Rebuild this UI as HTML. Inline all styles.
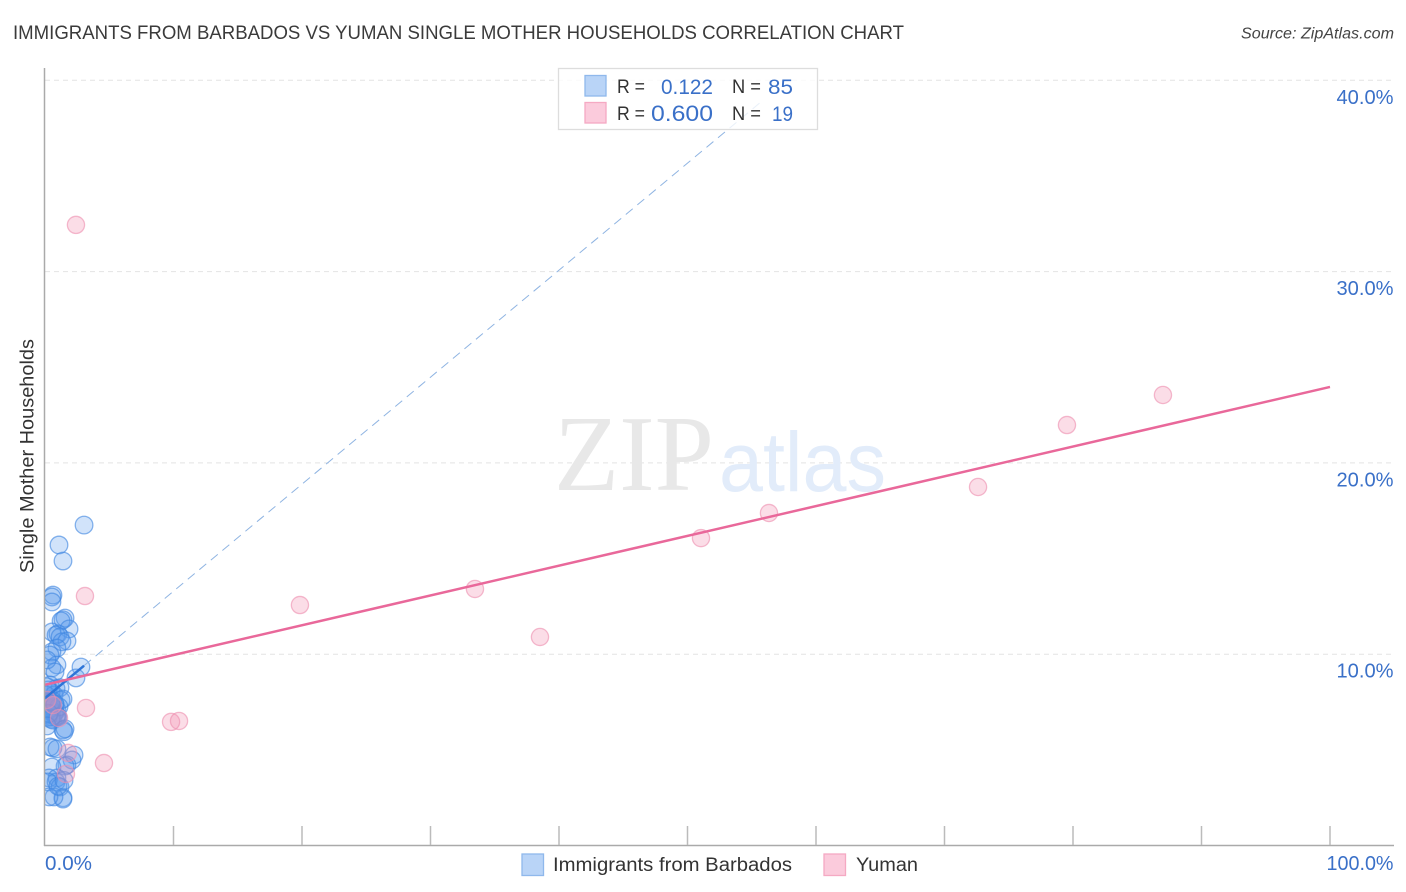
<!DOCTYPE html>
<html lang="en">
<head>
<meta charset="utf-8">
<title>Immigrants from Barbados vs Yuman Single Mother Households Correlation Chart</title>
<style>
html,body{margin:0;padding:0;background:#fff;}
body{width:1406px;height:892px;overflow:hidden;font-family:"Liberation Sans",sans-serif;}
svg{display:block;}
text{font-family:"Liberation Sans",sans-serif;}
</style>
</head>
<body>
<svg id="chart" width="1406" height="892" viewBox="0 0 1406 892" xmlns="http://www.w3.org/2000/svg">
  <defs><clipPath id="plot-clip"><rect x="45" y="60" width="1350" height="785"></rect></clipPath></defs>
  <text x="13" y="39" font-size="19" fill="#3a3a3a" textLength="891" lengthAdjust="spacingAndGlyphs">IMMIGRANTS FROM BARBADOS VS YUMAN SINGLE MOTHER HOUSEHOLDS CORRELATION CHART</text>
  <text x="1394" y="38.5" font-size="15.5" font-style="italic" fill="#444" text-anchor="end" textLength="153" lengthAdjust="spacingAndGlyphs">Source: ZipAtlas.com</text>

  <g id="grid"></g>

  <text x="554" y="490" font-size="108" fill="#e8e8e8" style="font-family:'Liberation Serif',serif" textLength="160" lengthAdjust="spacingAndGlyphs">ZIP</text>
  <text x="719" y="491" font-size="84" fill="#e2ecfa" textLength="167" lengthAdjust="spacingAndGlyphs">atlas</text>

  <g id="blue-points" clip-path="url(#plot-clip)"></g>
  <g id="pink-points" clip-path="url(#plot-clip)"></g>
  <g id="trends" clip-path="url(#plot-clip)"></g>

  <g id="axes"></g>
  <text transform="translate(33.5,456) rotate(-90)" font-size="19" fill="#333" text-anchor="middle" textLength="234" lengthAdjust="spacingAndGlyphs">Single Mother Households</text>

  <g>
    <rect x="558.5" y="68.5" width="259" height="61" fill="#fff" fill-opacity="0.8" stroke="#ddd" stroke-width="1.3"></rect>
    <rect x="585" y="75.5" width="21" height="20.5" fill="#b9d4f7" stroke="#8fb8ec" stroke-width="1.3"></rect>
    <rect x="585" y="102.5" width="21" height="20.5" fill="#fbcbdc" stroke="#f5a9c3" stroke-width="1.3"></rect>
    <text x="617" y="93" font-size="19" fill="#333" textLength="28" lengthAdjust="spacingAndGlyphs">R =</text>
    <text x="713" y="94" font-size="21" fill="#3a70c8" text-anchor="end" textLength="52" lengthAdjust="spacingAndGlyphs">0.122</text>
    <text x="732" y="93" font-size="19" fill="#333" textLength="29" lengthAdjust="spacingAndGlyphs">N =</text>
    <text x="793" y="94" font-size="21" fill="#3a70c8" text-anchor="end" textLength="25" lengthAdjust="spacingAndGlyphs">85</text>
    <text x="617" y="120" font-size="19" fill="#333" textLength="28" lengthAdjust="spacingAndGlyphs">R =</text>
    <text x="713" y="121" font-size="22" fill="#3a70c8" text-anchor="end" textLength="62" lengthAdjust="spacingAndGlyphs">0.600</text>
    <text x="732" y="120" font-size="19" fill="#333" textLength="29" lengthAdjust="spacingAndGlyphs">N =</text>
    <text x="793" y="121" font-size="21" fill="#3a70c8" text-anchor="end" textLength="21" lengthAdjust="spacingAndGlyphs">19</text>
  </g>

  <g>
    <rect x="522" y="854" width="21.5" height="21.5" fill="#b9d4f7" stroke="#8fb8ec" stroke-width="1.3"></rect>
    <text x="553" y="871" font-size="19" fill="#333" textLength="239" lengthAdjust="spacingAndGlyphs">Immigrants from Barbados</text>
    <rect x="824" y="854" width="21.5" height="21.5" fill="#fbcbdc" stroke="#f5a9c3" stroke-width="1.3"></rect>
    <text x="856" y="871" font-size="19" fill="#333" textLength="62" lengthAdjust="spacingAndGlyphs">Yuman</text>
  </g>
</svg>
<script>
const yTickValues = [10, 20, 30, 40];
const yTickLabels = ["10.0%", "20.0%", "30.0%", "40.0%"];
const xTickValues = [10, 20, 30, 40, 50, 60, 70, 80, 90, 100];
const xEndLabels = ["0.0%", "100.0%"];

const barbadosX = [3.04,1.09,1.40,0.62,0.54,0.54,1.56,1.40,1.25,1.87,0.54,1.01,0.86,1.17,1.71,1.32,0.93,0.54,0.39,
  2.80,0.93,0.54,0.78,0.16,2.41,0.39,0.86,1.17,0.23,0.47,0.70,1.25,1.40,0.08,0.31,0.16,0.54,0.78,0.39,0.62,0.93,
  0.23,0.47,0.78,0.93,0.31,0.54,0.08,0.70,0.62,0.86,0.93,0.39,0.16,0.62,1.09,0.47,0.23,0.78,0.47,1.01,0.31,
  1.40,1.48,1.56,0.62,0.39,0.16,0.93,2.26,2.10,1.71,1.56,0.54,0.31,0.93,0.86,0.23,1.17,1.40,1.40,0.70,0.31,1.01,1.48];
const barbadosY = [16.75,15.71,14.87,13.09,12.99,12.73,11.89,11.80,11.74,11.32,11.16,11.06,11.00,10.90,10.69,10.65,10.32,10.12,9.96,
  9.33,9.44,9.28,9.07,9.70,8.76,8.39,8.20,8.25,8.13,8.02,7.87,7.60,7.66,7.87,7.60,8.30,7.45,7.34,7.34,7.20,7.08,
  7.08,7.00,6.95,6.82,6.82,6.70,6.90,6.90,6.56,6.70,6.75,7.15,7.50,7.55,7.25,7.50,6.70,7.40,6.60,6.72,6.90,
  6.04,5.95,6.10,5.10,5.15,6.25,5.05,4.73,4.47,4.21,4.15,4.10,3.53,3.53,3.32,3.32,3.06,2.50,2.43,2.54,2.54,3.10,3.40];

const yumanX = [2.41,3.11,19.84,33.46,38.52,51.05,56.34,72.61,79.53,87.0,3.19,9.81,10.43,4.59,1.79,1.63,1.09,0.62,0.16];
const yumanY = [32.44,13.04,12.57,13.41,10.90,16.07,17.38,18.74,21.98,23.55,7.19,6.46,6.51,4.31,4.84,3.74,6.66,7.34,7.61];

const yumanTrendX = [0, 100];
const yumanTrendY = [8.4, 23.97];
const barbadosSolidX = [0, 3.04];
const barbadosSolidY = [7.7, 9.4];
const barbadosDashX = [3.04, 55.9];
const barbadosDashY = [9.4, 38.97];

const NS = 'http://www.w3.org/2000/svg';
function xScale(v){ return 45 + v * 12.85; }
function yScale(v){ return 845.5 - v * 19.13; }
function make(tag, attrs, parent){
  const el = document.createElementNS(NS, tag);
  for (const k in attrs) el.setAttribute(k, attrs[k]);
  parent.appendChild(el);
  return el;
}

const gridG = document.getElementById('grid');
const axesG = document.getElementById('axes');

yTickValues.forEach(function(v, i){
  const g = make('line', {x1:45, x2:1393, y1:yScale(v), y2:yScale(v), stroke:'#e4e4e4', 'stroke-width':1, 'stroke-dasharray':'5 4'}, gridG);
  
  
  const t = make('text', {x:1393.5, y:yScale(v)+23.5, 'font-size':20, fill:'#3a70c8', 'text-anchor':'end', textLength:57, lengthAdjust:'spacingAndGlyphs'}, axesG);
  t.textContent = yTickLabels[i];
  
  
});

const yAxis = make('line', {x1:44.5, x2:44.5, y1:68, y2:846, stroke:'#aaa', 'stroke-width':1.5}, axesG);


const xAxis = make('line', {x1:44, x2:1394, y1:845.5, y2:845.5, stroke:'#aaa', 'stroke-width':1.5}, axesG);



xTickValues.forEach(function(v){
  const tk = make('line', {x1:xScale(v), x2:xScale(v), y1:826, y2:845, stroke:'#bbb', 'stroke-width':1.5}, axesG);
  
  
});

const x0 = make('text', {x:45, y:870, 'font-size':20, fill:'#3a70c8', textLength:47, lengthAdjust:'spacingAndGlyphs'}, axesG);
x0.textContent = xEndLabels[0];


const x1 = make('text', {x:1393.5, y:870, 'font-size':20, fill:'#3a70c8', 'text-anchor':'end', textLength:67, lengthAdjust:'spacingAndGlyphs'}, axesG);
x1.textContent = xEndLabels[1];



const blueG = document.getElementById('blue-points');
barbadosX.forEach(function(v, i){
  const c = make('circle', {cx:xScale(v), cy:yScale(barbadosY[i]), r:8.8, fill:'#5b9cec', 'fill-opacity':0.28, stroke:'#3f86e0', 'stroke-opacity':0.62, 'stroke-width':1.3}, blueG);
  
  
});

const pinkG = document.getElementById('pink-points');
yumanX.forEach(function(v, i){
  const c = make('circle', {cx:xScale(v), cy:yScale(yumanY[i]), r:8.6, fill:'#f28fb0', 'fill-opacity':0.3, stroke:'#ee8fb0', 'stroke-opacity':0.62, 'stroke-width':1.3}, pinkG);
  
  
});

const trendG = document.getElementById('trends');
const dash = make('line', {x1:xScale(barbadosDashX[0]), y1:yScale(barbadosDashY[0]), x2:xScale(barbadosDashX[1]), y2:yScale(barbadosDashY[1]), stroke:'#8fb4e2', 'stroke-width':1, 'stroke-dasharray':'9 6'}, trendG);


const solid = make('line', {x1:xScale(barbadosSolidX[0]), y1:yScale(barbadosSolidY[0]), x2:xScale(barbadosSolidX[1]), y2:yScale(barbadosSolidY[1]), stroke:'#2d74d8', 'stroke-width':2.5}, trendG);


const pinkLine = make('line', {x1:xScale(yumanTrendX[0]), y1:yScale(yumanTrendY[0]), x2:xScale(yumanTrendX[1]), y2:yScale(yumanTrendY[1]), stroke:'#e9689a', 'stroke-width':2.5}, trendG);


</script>
</body>
</html>
